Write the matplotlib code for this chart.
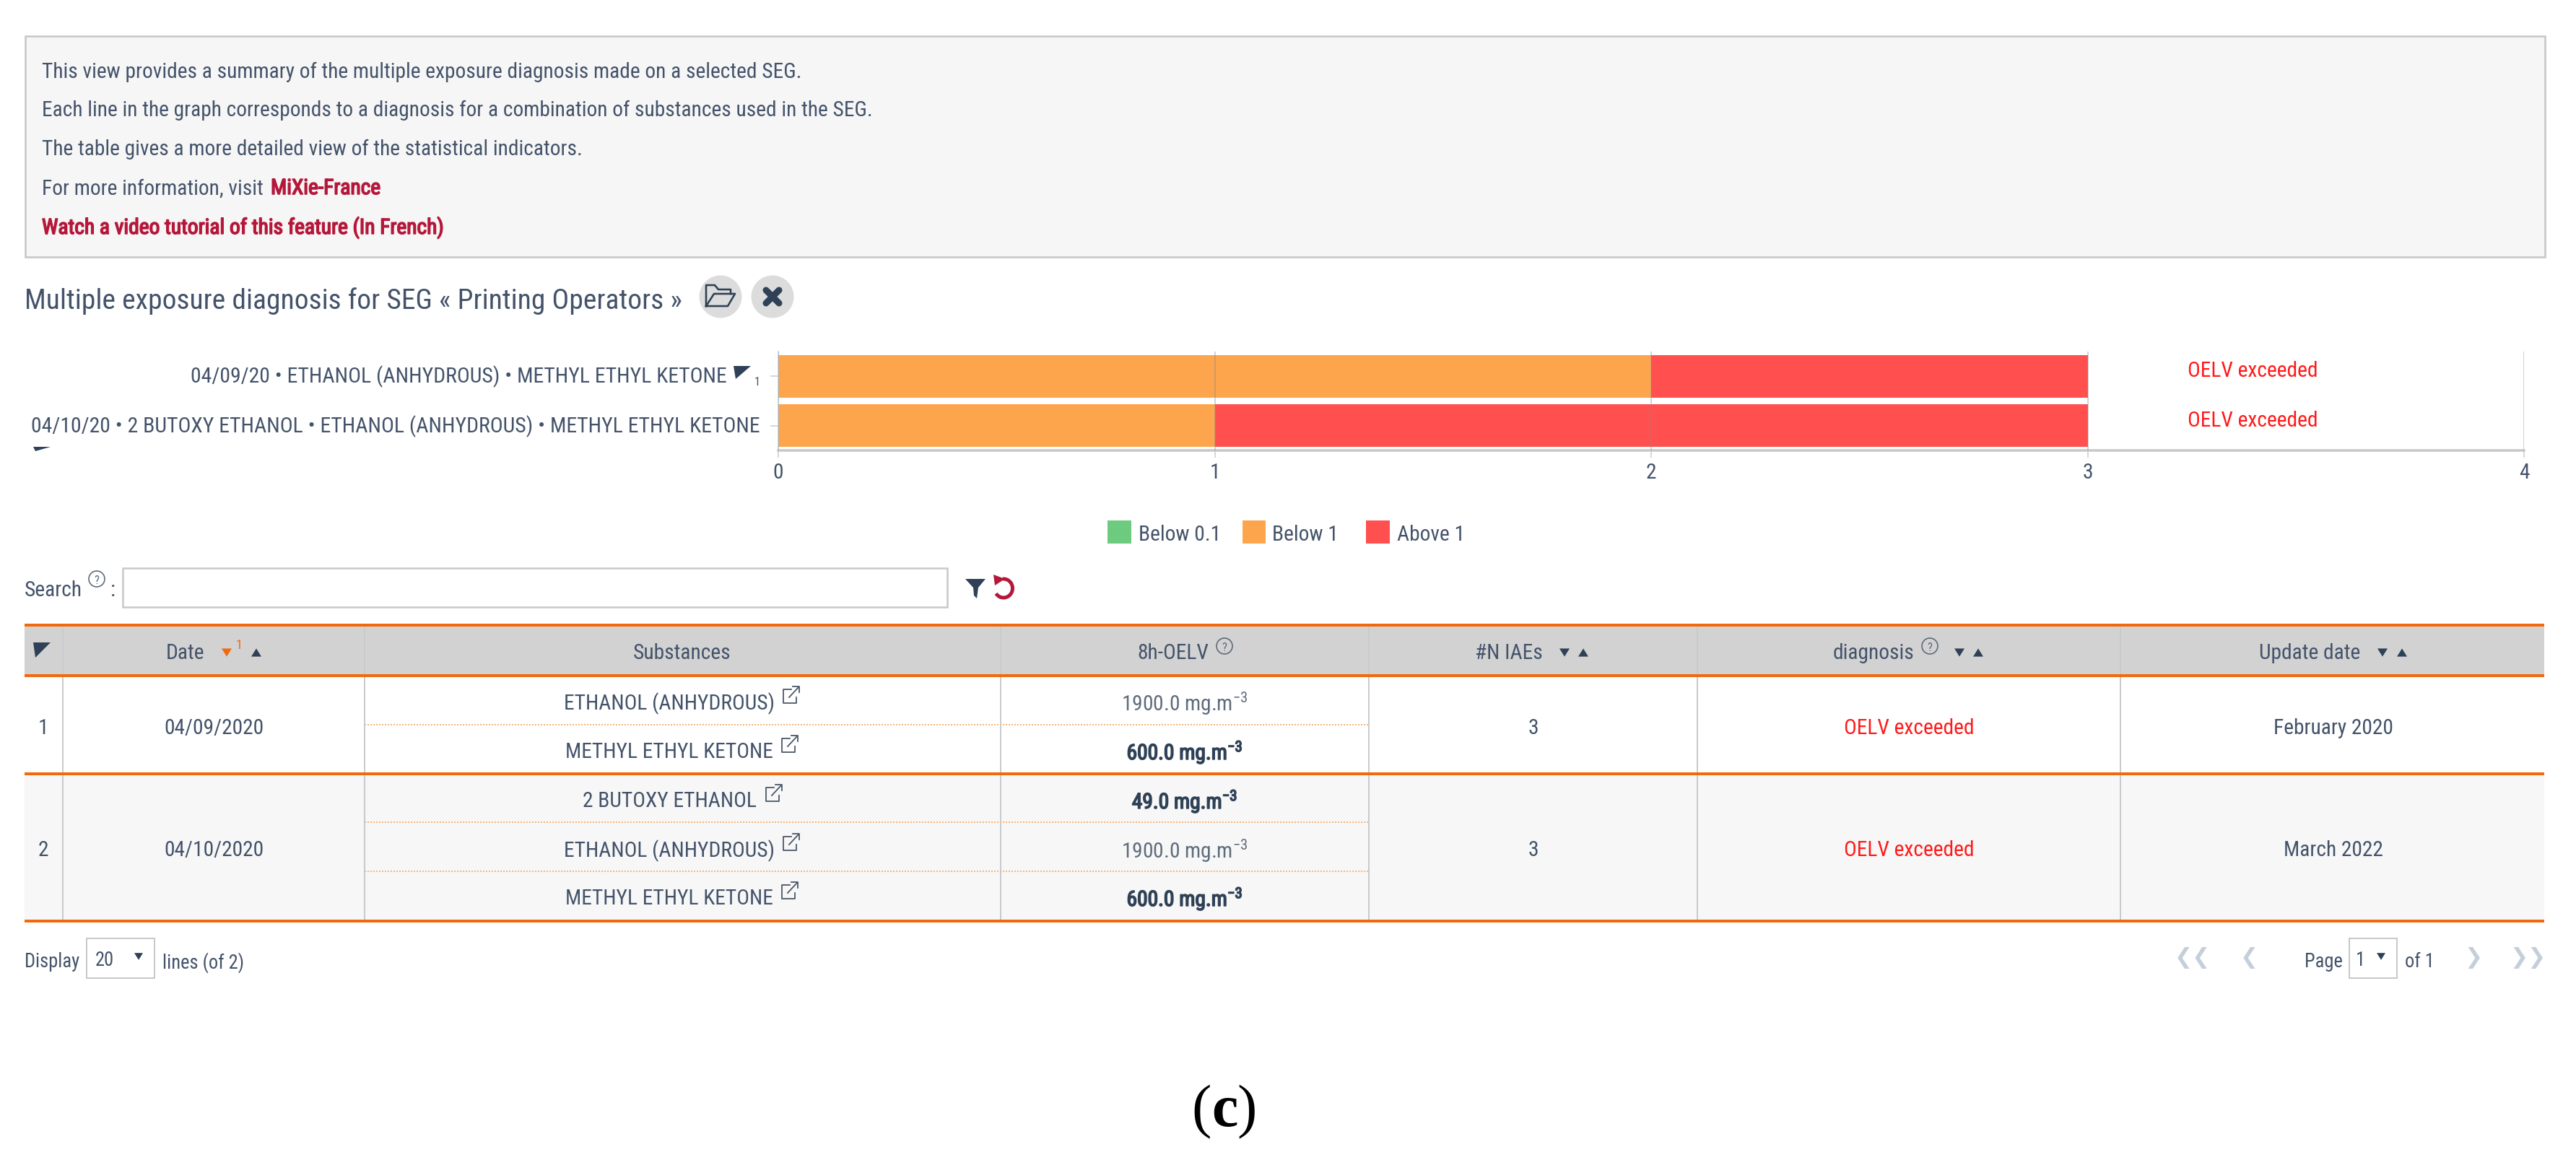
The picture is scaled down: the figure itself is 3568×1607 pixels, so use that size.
#!/usr/bin/env python3
import matplotlib
matplotlib.use('Agg')
import matplotlib.pyplot as plt
import matplotlib.patheffects as pe
from matplotlib import font_manager
from matplotlib.patches import Rectangle, Circle, Polygon, Arc
from matplotlib.transforms import ScaledTranslation

W, H = 3568, 1608
DPI = 100

# chart data
combos = ["04/09/20 • ETHANOL (ANHYDROUS) • METHYL ETHYL KETONE",
          "04/10/20 • 2 BUTOXY ETHANOL • ETHANOL (ANHYDROUS) • METHYL ETHYL KETONE"]
below_01 = [0, 0]
below_1 = [2, 1]
above_1 = [1, 2]
chart_diag = ["OELV exceeded", "OELV exceeded"]
x_ticks = [0, 1, 2, 3, 4]
legend_labels = ["Below 0.1", "Below 1", "Above 1"]

# intro text
intro_lines = ["This view provides a summary of the multiple exposure diagnosis made on a selected SEG.",
               "Each line in the graph corresponds to a diagnosis for a combination of substances used in the SEG.",
               "The table gives a more detailed view of the statistical indicators."]
title = "Multiple exposure diagnosis for SEG « Printing Operators »"

# table data
headers = ["Date", "Substances", "8h-OELV", "#N IAEs", "diagnosis", "Update date"]
row_ids = ["1", "2"]
row_dates = ["04/09/2020", "04/10/2020"]
row_subs = ["ETHANOL (ANHYDROUS)", "METHYL ETHYL KETONE", "2 BUTOXY ETHANOL",
            "ETHANOL (ANHYDROUS)", "METHYL ETHYL KETONE"]
row_oelv = ["1900.0", "600.0", "49.0", "1900.0", "600.0"]
row_oelv_bold = [False, True, True, False, True]
row_n = ["3", "3"]
row_diag = ["OELV exceeded", "OELV exceeded"]
row_update = ["February 2020", "March 2022"]

INK = '#44536a'
DARK = '#2f4156'
ORANGE = '#f2690d'
CRIMSON = '#b5173a'
RED_TXT = '#ff1a1a'
LINE = '#c8cbce'
BAR_O = '#fda54c'
BAR_R = '#ff4f4f'
BAR_G = '#6ccb7f'

# the page uses a condensed face; take the closest one there is
names = {f.name for f in font_manager.fontManager.ttflist}
FONT = 'Lato'
for cand in ['Ubuntu Condensed', 'Roboto Condensed', 'Asap Condensed', 'Lato']:
    if cand in names:
        FONT = cand
        break
plt.rcParams['font.family'] = [FONT, 'DejaVu Sans']
plt.rcParams['mathtext.fontset'] = 'custom'
plt.rcParams['mathtext.rm'] = FONT
plt.rcParams['mathtext.it'] = FONT
plt.rcParams['mathtext.bf'] = FONT


def pt(px):
    return px * 72 / DPI


fig = plt.figure(figsize=(W / DPI, H / DPI), dpi=DPI, facecolor='white')
ui = fig.add_axes([0, 0, 1, 1])
ui.set_xlim(0, W)
ui.set_ylim(H, 0)
ui.axis('off')

# body size: first intro line spans 1054 px in the reference
probe = ui.text(0, 0, intro_lines[0], fontsize=pt(30))
BASE = 30 * 1054 / probe.get_window_extent(fig.canvas.get_renderer()).width
probe.remove()


def txt(x, y, s, scale=1.0, color=INK, ha='left', bold=False, **kw):
    t = ui.text(x, y, s, fontsize=pt(BASE * scale), color=color, ha=ha, va='center_baseline', **kw)
    if bold:
        t.set_path_effects([pe.withStroke(linewidth=pt(1.6), foreground=color)])
    return t


def rect(x0, y0, x1, y1, fc='none', ec='none', lw=0, z=1):
    ui.add_patch(Rectangle((x0, y0), x1 - x0, y1 - y0, fc=fc, ec=ec, lw=pt(lw), zorder=z))


def hline(x0, x1, y, color=ORANGE, lw=4, ls='-', z=3):
    ui.plot([x0, x1], [y, y], color=color, lw=pt(lw), ls=ls, zorder=z, solid_capstyle='butt')


def vline(x, y0, y1, color=LINE, lw=2, z=2):
    ui.plot([x, x], [y0, y1], color=color, lw=pt(lw), zorder=z, solid_capstyle='butt')


def tri(x, y, size=7, up=True, color=DARK):
    d = -size if up else size
    ui.add_patch(Polygon([(x - size, y - d * 0.8), (x + size, y - d * 0.8), (x, y + d * 0.8)],
                         fc=color, ec='none', zorder=5))


def corner(x0, y0, x1, y1):
    # the little "expand" corner arrow
    ui.add_patch(Polygon([(x0, y0), (x1, y0), (x0 + 3, y1)], fc=DARK, ec='none', zorder=5))


def help_mark(x, y):
    ui.add_patch(Circle((x, y), 11, fc='none', ec='#5a6878', lw=pt(1.6), zorder=5))
    txt(x, y, "?", scale=0.55, color='#5a6878', ha='center')


def ext_icon(x, y):
    c = '#4a5868'
    ui.plot([x + 1, x - 10, x - 10, x + 8, x + 8], [y - 8, y - 8, y + 11, y + 11, y + 3],
            color=c, lw=pt(1.8), zorder=5)
    ui.plot([x - 2, x + 11], [y + 3, y - 11], color=c, lw=pt(1.8), zorder=5)
    ui.plot([x + 3, x + 12, x + 12], [y - 12, y - 12, y - 4], color=c, lw=pt(1.8), zorder=5)


# intro box
rect(35, 51, 3525, 357, fc='#f6f6f6', ec='#c6c6c6', lw=2.5)
for y, line in zip([97, 150, 204], intro_lines):
    txt(58, y, line)
txt(58, 259, "For more information, visit")
txt(375, 259, "MiXie-France", color=CRIMSON, bold=True)
txt(58, 313, "Watch a video tutorial of this feature (In French)", color=CRIMSON, bold=True)

# title + buttons
txt(34, 413, title, scale=1.34)
for cx in (998, 1070):
    ui.add_patch(Circle((cx, 412), 29.5, fc='#dcdcdc', ec='none', zorder=2))
# open-folder icon
ui.plot([978, 978, 990, 995, 1012, 1012], [425, 396, 396, 402, 402, 408], color=DARK, lw=pt(2.6), zorder=5)
ui.plot([978, 989, 1018, 1008, 978], [425, 408, 408, 425, 425], color=DARK, lw=pt(2.6), zorder=5)
# close icon
ui.plot([1061, 1079], [403, 421], color=DARK, lw=pt(9), zorder=5, solid_capstyle='round')
ui.plot([1061, 1079], [421, 403], color=DARK, lw=pt(9), zorder=5, solid_capstyle='round')

# bar chart, on its own axes
AX_L, AX_R, AX_T, AX_B = 1078, 3496, 488, 625
ax = fig.add_axes([AX_L / W, 1 - AX_B / H, (AX_R - AX_L) / W, (AX_B - AX_T) / H])
ax.patch.set_alpha(0)
y_pos = list(range(len(combos)))
left_o = below_01
left_r = [a + b for a, b in zip(below_01, below_1)]
ax.barh(y_pos, below_01, height=0.86, color=BAR_G, zorder=2)
ax.barh(y_pos, below_1, left=left_o, height=0.86, color=BAR_O, zorder=2)
ax.barh(y_pos, above_1, left=left_r, height=0.86, color=BAR_R, zorder=2)
ax.set_xlim(0, 4)
ax.set_ylim(1.5, -0.5)
ax.set_xticks(x_ticks)
ax.set_xticklabels([str(v) for v in x_ticks], fontsize=pt(BASE), color=INK)
ax.set_yticks(y_pos)
ax.set_yticklabels(combos, fontsize=pt(BASE * 1.01), color=INK)
ax.tick_params(axis='x', length=pt(10), width=pt(1.5), color=LINE, pad=pt(6))
ax.tick_params(axis='y', length=pt(11), width=pt(1.5), color=LINE, pad=pt(14))
ax.grid(axis='x', color='#8a8a8a', lw=pt(1.5), alpha=0.5, zorder=3)
ax.set_axisbelow(False)
for s in ('top', 'right'):
    ax.spines[s].set_visible(False)
ax.spines['left'].set_color(LINE)
ax.spines['left'].set_linewidth(pt(1.5))
ax.spines['bottom'].set_color('#c9c6c8')
ax.spines['bottom'].set_linewidth(pt(3.5))
labels = ax.get_yticklabels()
labels[0].set_transform(labels[0].get_transform()
                        + ScaledTranslation(-46 / DPI, 4 / DPI, fig.dpi_scale_trans))
labels[1].set_transform(labels[1].get_transform()
                        + ScaledTranslation(0, 4 / DPI, fig.dpi_scale_trans))
for i, s in enumerate(chart_diag):
    total = below_01[i] + below_1[i] + above_1[i]
    ax.annotate(s, (total, i), xytext=(pt(229), pt(8)), textcoords='offset points',
                ha='center', va='center', fontsize=pt(BASE), color=RED_TXT)
# wrapped sort icons next to the axis labels
corner(1016, 508, 1040, 526)
txt(1049, 528, "1", scale=0.55, ha='center')
corner(46, 620, 70, 626)

# legend
for (x0, x1, tx), c, s in zip([(1534, 1567, 1577), (1721, 1753, 1762), (1892, 1925, 1935)],
                              [BAR_G, BAR_O, BAR_R], legend_labels):
    rect(x0, 722, x1, 754, fc=c)
    txt(tx, 738, s)

# search bar
txt(34, 815, "Search")
help_mark(134, 803)
txt(153, 815, ":")
rect(170, 788, 1312, 842, fc='white', ec='#c8c8c8', lw=2.5)
ui.add_patch(Polygon([(1337, 803), (1365, 803), (1355, 815), (1353, 830), (1349, 826), (1348, 815)],
                     fc=DARK, ec='none', zorder=5))
ui.add_patch(Arc((1390, 816), 25, 26, theta1=-95, theta2=145, ec=CRIMSON, lw=pt(5), zorder=5))
ui.add_patch(Polygon([(1376, 797), (1392, 803), (1378, 812)], fc=CRIMSON, ec='none', zorder=5))

# table
T_L, T_R = 34, 3524
col_x = [87, 505, 1386, 1896, 2351, 2937]
Y_HT, Y_HB, Y_R1, Y_R2 = 867, 937, 1073, 1277
rect(T_L, Y_HT, T_R, Y_HB, fc='#d2d2d2')
rect(T_L, Y_R1, T_R, Y_R2, fc='#f7f7f7')
for x in col_x:
    vline(x, Y_HT - 2, Y_R2 + 2)
for y in (Y_HT, Y_HB, Y_R1, Y_R2):
    hline(T_L, T_R, y)
for y in (1005, 1140, 1208):
    hline(col_x[1], col_x[3], y, color='#f6b47c', lw=2, ls=(0, (1, 1)))

header_x = [256, 945, 1625, 2090, 2595, 3199]
for x, s in zip(header_x, headers):
    txt(x, 902, s, ha='center')
corner(46, 891, 70, 912)
tri(314, 905, up=False, color=ORANGE)
txt(331, 892, "1", scale=0.62, color=ORANGE, ha='center')
tri(355, 905)
help_mark(1696, 896)
help_mark(2673, 896)
for xd, xu in [(2167, 2193), (2714, 2740), (3300, 3327)]:
    tri(xd, 905, up=False)
    tri(xu, 905)

row_y = [1006, 1175]
for i in range(2):
    txt(60, row_y[i], row_ids[i], ha='center')
    txt(296, row_y[i], row_dates[i], ha='center')
    txt(2124, row_y[i], row_n[i], ha='center')
    txt(2644, row_y[i], row_diag[i], ha='center', color=RED_TXT)
    txt(3232, row_y[i], row_update[i], ha='center')

sub_y = [971, 1039, 1107, 1175, 1242]
ext_x = [1095, 1093, 1071, 1095, 1093]
for y, ex, s, o, b in zip(sub_y, ext_x, row_subs, row_oelv, row_oelv_bold):
    txt(927, y, s, ha='center')
    ext_icon(ex, y - 7)
    if b:
        txt(1641, y, o + r" mg.m$^{-3}$", ha='center', bold=True, color=DARK)
    else:
        txt(1641, y, o + r" mg.m$^{-3}$", ha='center', color='#5f6c7c')

# footer
txt(34, 1330, "Display", scale=0.9)
rect(120, 1301, 214, 1356, fc='white', ec='#c8c8c8', lw=2)
txt(145, 1328, "20", scale=0.9, ha='center')
tri(192, 1326, size=6, up=False)
txt(225, 1330, "lines (of 2)", scale=0.9)

PAGER = '#c5cfdb'
for x, s in [(3037, "❮❮"), (3115, "❮"), (3426, "❯"), (3502, "❯❯")]:
    ui.text(x, 1327, s, fontsize=pt(30), color=PAGER, ha='center', va='center', family='DejaVu Sans')
txt(3192, 1330, "Page", scale=0.9)
rect(3254, 1301, 3320, 1356, fc='white', ec='#c8c8c8', lw=2)
txt(3269, 1328, "1", scale=0.9, ha='center')
tri(3298, 1326, size=6, up=False)
txt(3331, 1330, "of 1", scale=0.9)

# caption
for x, s, w in [(1664, "(", 'normal'), (1696, "c", 'bold'), (1727, ")", 'normal')]:
    ui.text(x, 1560, s, family='Liberation Serif', fontweight=w, fontsize=pt(82),
            color='black', ha='center', va='baseline')

fig.savefig("out.png", dpi=DPI, facecolor='white')
